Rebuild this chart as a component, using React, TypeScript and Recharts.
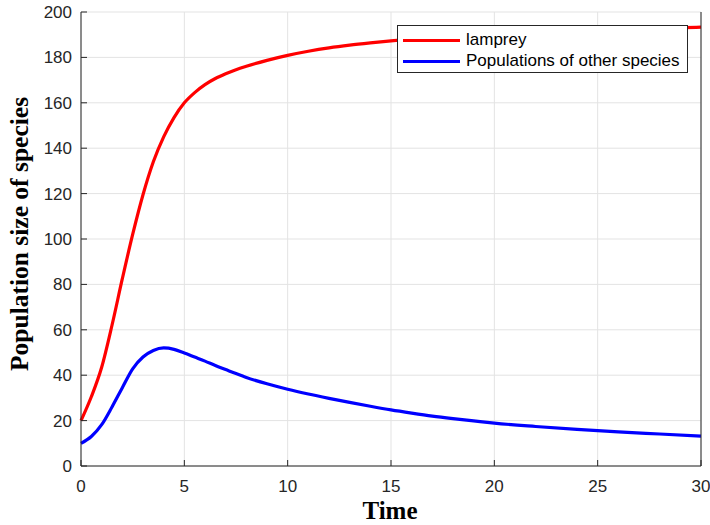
import React from 'react';
import { ComposedChart, Line, XAxis, YAxis, CartesianGrid, Legend, Label } from 'recharts';

// Simulation time points and population sizes
const times = [0, 0.5, 1, 1.5, 2, 2.5, 3, 3.5, 4, 4.5, 5, 5.5, 6, 6.5, 7, 7.5, 8, 9, 10, 11, 12, 13, 14, 15, 16, 17, 18, 19, 20, 22, 24, 26, 28, 30];
const lamprey = [20, 30.5, 43.5, 62, 82.5, 102, 119.5, 134, 145, 153.5, 160, 164.5, 168, 170.7, 172.8, 174.6, 176.1, 178.7, 180.9, 182.7, 184.2, 185.4, 186.4, 187.3, 188.1, 188.8, 189.4, 189.9, 190.4, 191.2, 191.9, 192.4, 192.9, 193.3];
const others = [10, 13, 18.2, 26, 34.5, 42.8, 48, 50.9, 52, 51.4, 49.8, 48, 46.2, 44.3, 42.5, 40.7, 39, 36.2, 33.8, 31.7, 29.8, 28, 26.3, 24.7, 23.3, 22, 20.9, 19.9, 18.9, 17.4, 16.1, 15, 14.1, 13.2];

const xTicks = [0, 5, 10, 15, 20, 25, 30];
const yTicks = [0, 20, 40, 60, 80, 100, 120, 140, 160, 180, 200];

const seriesNames = ['lamprey', 'Populations of other species'];

const data = times.map((t, i) => ({ t, lamprey: lamprey[i], others: others[i] }));

const AXIS_COLOR = '#262626';
const TICK_FONT = { fontFamily: 'Liberation Sans, Arial, sans-serif', fontSize: 17, fill: '#262626' };
const TITLE_STYLE = { fontFamily: 'Liberation Serif, Times New Roman, serif', fontWeight: 'bold', fill: '#000' };

const BoxLegend = (props: any) => {
  const items = (props.payload || [])
    .filter((p: any) => p.type !== 'none')
    .sort((a: any, b: any) => seriesNames.indexOf(a.value) - seriesNames.indexOf(b.value));
  return (
    <div
      style={{
        border: '1px solid #262626',
        background: '#fff',
        padding: '4px 7px 1px 5px',
        fontFamily: 'Liberation Sans, Arial, sans-serif',
        fontSize: 17,
        color: '#000',
        lineHeight: '20.7px',
        whiteSpace: 'nowrap',
      }}
    >
      {items.map((it: any) => (
        <div key={it.value} style={{ display: 'flex', alignItems: 'center' }}>
          <span style={{ display: 'inline-block', width: 57, height: 3, background: it.color, marginRight: 6 }} />
          <span>{it.value}</span>
        </div>
      ))}
    </div>
  );
};

const YTitle = () => (
  <text x={27.7} y={234} transform="rotate(-90 27.7 234)" textAnchor="middle" style={{ ...TITLE_STYLE, fontSize: 25.5 }}>
    Population size of species
  </text>
);

const XTitle = () => (
  <text x={390} y={519.3} textAnchor="middle" style={{ ...TITLE_STYLE, fontSize: 25 }}>
    Time
  </text>
);

const tickLineStyle = { stroke: AXIS_COLOR, strokeWidth: 1 };

export default function App() {
  return (
    <div style={{ position: 'absolute', left: 0, top: 0, width: 710, height: 525, background: '#fff' }}>
      <ComposedChart width={710} height={525} data={data} margin={{ top: 12, right: 8, bottom: 29, left: 41 }}>
        <CartesianGrid stroke="#e3e3e3" strokeWidth={1} xAxisId="bottom" yAxisId="left" />
        <XAxis
          xAxisId="bottom"
          dataKey="t"
          type="number"
          domain={[0, 30]}
          ticks={xTicks}
          height={30}
          stroke={AXIS_COLOR}
          tickLine={tickLineStyle}
          tickSize={-6}
          tickMargin={20}
          tick={TICK_FONT}
          interval={0}
        >
          <Label content={<XTitle />} />
        </XAxis>
        <XAxis
          xAxisId="top"
          dataKey="t"
          type="number"
          orientation="top"
          domain={[0, 30]}
          ticks={xTicks}
          height={0}
          stroke={AXIS_COLOR}
          tickLine={tickLineStyle}
          tickSize={-6}
          tick={false}
        />
        <YAxis
          yAxisId="left"
          type="number"
          domain={[0, 200]}
          ticks={yTicks}
          width={40}
          stroke={AXIS_COLOR}
          tickLine={tickLineStyle}
          tickSize={-6}
          tickMargin={15}
          tick={TICK_FONT}
          interval={0}
        >
          <Label content={<YTitle />} />
        </YAxis>
        <YAxis
          yAxisId="right"
          type="number"
          orientation="right"
          domain={[0, 200]}
          ticks={yTicks}
          width={1}
          stroke={AXIS_COLOR}
          tickLine={tickLineStyle}
          tickSize={-6}
          tick={false}
        />
        <Legend
          layout="vertical"
          align="center"
          verticalAlign="middle"
          content={<BoxLegend />}
          wrapperStyle={{ position: 'absolute', left: 397, top: 25, width: 'auto' }}
        />
        <Line
          xAxisId="bottom"
          yAxisId="left"
          type="monotone"
          dataKey="lamprey"
          name={seriesNames[0]}
          stroke="#ff0000"
          strokeWidth={3.2}
          dot={false}
          isAnimationActive={false}
        />
        <Line
          xAxisId="bottom"
          yAxisId="left"
          type="monotone"
          dataKey="others"
          name={seriesNames[1]}
          stroke="#0000ff"
          strokeWidth={3.2}
          dot={false}
          isAnimationActive={false}
        />
        <Line
          xAxisId="top"
          yAxisId="right"
          dataKey="lamprey"
          stroke="none"
          dot={false}
          activeDot={false}
          legendType="none"
          isAnimationActive={false}
        />
      </ComposedChart>
    </div>
  );
}
